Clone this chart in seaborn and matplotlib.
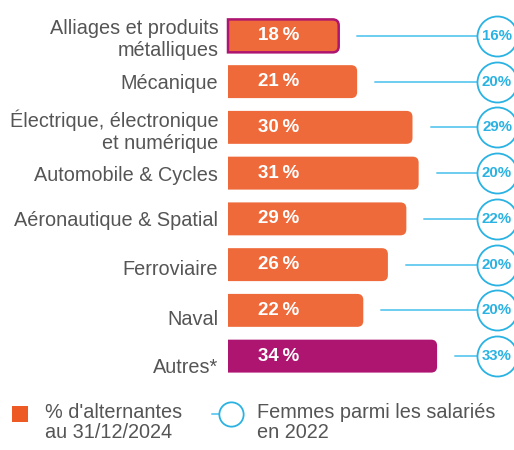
import matplotlib
matplotlib.use("Agg")
import matplotlib.pyplot as plt
import matplotlib.transforms as mtransforms
import seaborn as sns
import pandas as pd
from matplotlib.patches import PathPatch, Rectangle
from matplotlib.path import Path
from matplotlib.lines import Line2D

# data
secteurs = ["Alliages et produits\nmétalliques", "Mécanique",
            "Électrique, électronique\net numérique", "Automobile & Cycles",
            "Aéronautique & Spatial", "Ferroviaire", "Naval", "Autres*"]
alternantes = [18, 21, 30, 31, 29, 26, 22, 34]
femmes_salariees = [16, 20, 29, 20, 22, 20, 20, 33]

ORANGE = "#EE6A3B"
PURPLE = "#AD1570"
CYAN = "#2AB3E2"
LIGHT_CYAN = "#6DCDF0"
GREY = "#555555"

bar_colors = [ORANGE] * 7 + [PURPLE]

df = pd.DataFrame({"secteur": secteurs, "alternantes": alternantes,
                   "femmes": femmes_salariees})

sns.set_style("white")
plt.rcParams["font.family"] = ["Liberation Sans", "DejaVu Sans"]

fig = plt.figure(figsize=(5.14, 4.5), dpi=100)
ax = fig.add_axes([228 / 514, 1 - 379 / 450, 286 / 514, 366 / 450])

sns.barplot(data=df, x="alternantes", y="secteur", hue="secteur",
            palette=bar_colors, saturation=1, legend=False, width=0.72, ax=ax)

ax.set_xlim(0, 286 / 6.15)
ax.set_ylim(7.5, -0.5)
sns.despine(ax=ax, left=True, bottom=True)
ax.set_xlabel("")
ax.set_ylabel("")
ax.set_xticks([])
ax.tick_params(axis="y", length=0, pad=7, labelsize=14.3, labelcolor=GREY)

# nudge a few labels down like in the original
label_shift = {5: 3, 6: 7, 7: 9}
for i, lab in enumerate(ax.get_yticklabels()):
    if i in label_shift:
        lab.set_transform(lab.get_transform() + mtransforms.ScaledTranslation(
            0, -label_shift[i] / 100, fig.dpi_scale_trans))

# bars: square left side, rounded right corners
x_per_px = (286 / 6.15) / 286
y_per_px = 8 / 366
rx, ry = 6 * x_per_px, 6 * y_per_px
for i, p in enumerate(list(ax.patches)):
    x0, y0 = p.get_x(), p.get_y()
    w, h = p.get_width(), p.get_height()
    fc = p.get_facecolor()
    p.remove()
    x1, y1 = x0 + w, y0 + h
    verts = [(x0, y0), (x1 - rx, y0), (x1, y0), (x1, y0 + ry),
             (x1, y1 - ry), (x1, y1), (x1 - rx, y1), (x0, y1), (x0, y0)]
    codes = [Path.MOVETO, Path.LINETO, Path.CURVE3, Path.CURVE3,
             Path.LINETO, Path.CURVE3, Path.CURVE3, Path.LINETO, Path.CLOSEPOLY]
    ec = PURPLE if i == 0 else "none"
    lw = 1.8 if i == 0 else 0
    ax.add_patch(PathPatch(Path(verts, codes), facecolor=fc, edgecolor=ec,
                           linewidth=lw, zorder=2, clip_on=False))
    ax.text(30 * x_per_px, i, f"{alternantes[i]}\u2009%", color="white",
            fontsize=13.5, fontweight="bold", va="center", ha="left", zorder=4)

# circles for women share
circle_x = (497 - 228) * x_per_px
circle_r = 20 * x_per_px
for i, v in enumerate(femmes_salariees):
    start = alternantes[i] + 18 * x_per_px
    ax.plot([start, circle_x - circle_r], [i, i], color=LIGHT_CYAN, lw=1.4,
            zorder=1, clip_on=False)
ax.scatter([circle_x] * len(femmes_salariees), range(len(femmes_salariees)),
           s=830, facecolor="white", edgecolor=CYAN, linewidth=1.3,
           zorder=3, clip_on=False)
for i, v in enumerate(femmes_salariees):
    ax.text(circle_x, i, f"{v}%", color=CYAN, fontsize=10.8, fontweight="bold",
            va="center", ha="center", zorder=4, clip_on=False)

# legend
ly = 1 - 414 / 450
fig.patches.append(Rectangle((12 / 514, ly - 8 / 450), 16 / 514, 16 / 450,
                             transform=fig.transFigure, facecolor="#EE5A24",
                             edgecolor="none"))
fig.text(45 / 514, ly + 11 / 450, "% d'alternantes\nau 31/12/2024",
         color=GREY, fontsize=14.3, va="top", ha="left",
         linespacing=1.05, transform=fig.transFigure)
fig.lines.append(Line2D([212 / 514, 220 / 514], [ly] * 2,
                        color=LIGHT_CYAN, lw=1.4, transform=fig.transFigure))
fig.lines.append(Line2D([231 / 514], [ly], marker="o",
                        markersize=17.5, markerfacecolor="white",
                        markeredgecolor=CYAN, markeredgewidth=1.3,
                        transform=fig.transFigure))
fig.text(257 / 514, ly + 11 / 450, "Femmes parmi les salariés\nen 2022",
         color=GREY, fontsize=14.3, va="top", ha="left",
         linespacing=1.05, transform=fig.transFigure)

fig.savefig("out.png", dpi=100)
